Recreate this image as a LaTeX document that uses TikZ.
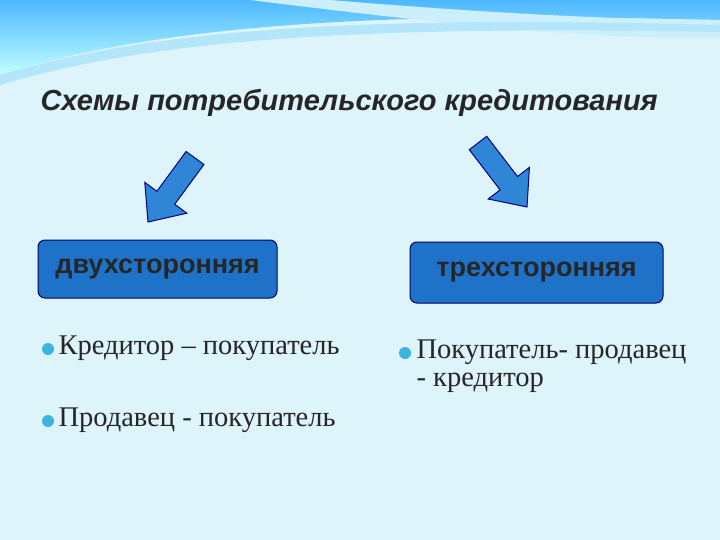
\documentclass[tikz,border=0pt]{standalone}
\usepackage{fontspec}
\setmainfont{Liberation Serif}
\setsansfont{Liberation Sans}
\definecolor{boxblue}{HTML}{1E73C8}
\definecolor{arrblue}{HTML}{2F86D6}
\definecolor{bg}{HTML}{DDF4FB}
\definecolor{bul}{HTML}{3BB4DE}
\begin{document}
\begin{tikzpicture}[x=1pt,y=-1pt,
  bar/.style={fill=arrblue, draw=blue!50!black, line width=1pt},
  box/.style={rounded corners=7pt, fill=boxblue, draw=blue!40!black, line width=1pt},
  item/.style={anchor=west, font=\fontsize{28.5}{33}\selectfont, text=black!85}]
\fill[bg] (0,0) rectangle (720,540);
\useasboundingbox (0,0) rectangle (720,540);
% top wave
\shade[top color=cyan!60!blue!70, bottom color=cyan!25] (0,0) -- (720,0) -- (720,20) .. controls (500,15) and (200,10) .. (0,75) -- cycle;
\fill[white!80!cyan] (250,0) .. controls (450,25) and (600,40) .. (720,38) -- (720,20) .. controls (600,20) and (450,10) .. (330,0) -- cycle;
\fill[cyan!30] (0,75) .. controls (150,30) and (350,15) .. (720,25) -- (720,32) .. controls (350,25) and (150,40) .. (0,85) -- cycle;
\node[anchor=west, font=\sffamily\bfseries\itshape\fontsize{29}{34}\selectfont, text=black!85] (title) at (37,103) {Схемы потребительского кредитования};
\draw[bar] (203.9,164.5) -- (174.7,204.3) -- (186.8,213.2) -- (148,222) -- (144.8,182.4) -- (156.9,191.3) -- (186.1,151.5) -- cycle;
\draw[bar] (486.7,136.3) -- (517.5,176.5) -- (529.4,167.4) -- (527,207) -- (488.2,199.0) -- (500.1,189.9) -- (469.3,149.7) -- cycle;
\node[box, minimum width=239pt, minimum height=58pt, font=\sffamily\bfseries\fontsize{27}{32}\selectfont, text=black!85] (b1) at (157.5,269) {двухсторонняя};
\node[box, minimum width=253pt, minimum height=61pt, font=\sffamily\bfseries\fontsize{27}{32}\selectfont, text=black!85] (b2) at (536.5,272.5) {трехсторонняя};
\fill[bul] (48,349) circle (6);
\node[item] (i1) at (55,348) {Кредитор – покупатель};
\fill[bul] (48,421) circle (6);
\node[item] (i2) at (55,420) {Продавец - покупатель};
\fill[bul] (405,353) circle (6);
\node[item] (i3) at (413,352) {Покупатель- продавец};
\node[item] (i4) at (413,383) {- кредитор};
\end{tikzpicture}
\end{document}
